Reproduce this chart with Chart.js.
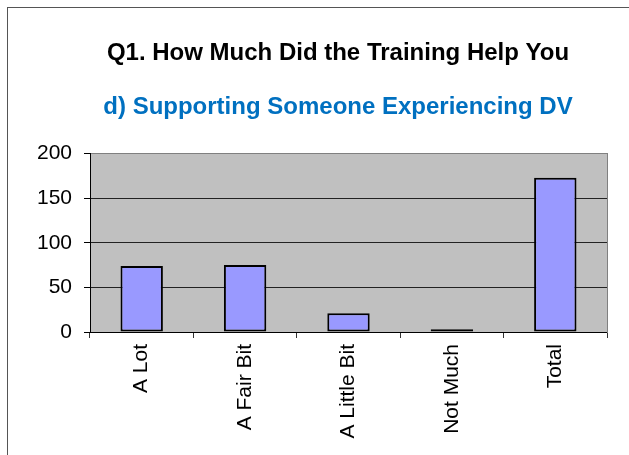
<!DOCTYPE html>
<html>
<head>
<meta charset="utf-8">
<script src="https://cdn.jsdelivr.net/npm/chart.js@4"></script>
<style>
  html, body { margin: 0; padding: 0; background: #fff; }
  #wrap { width: 629px; height: 455px; position: relative; }
</style>
</head>
<body>
<div id="wrap"><canvas id="trainingChart" width="629" height="455"></canvas></div>
<script>
// data
const categories = ['A Lot', 'A Fair Bit', 'A Little Bit', 'Not Much', 'Total'];
const responses = [74, 75, 21, 3, 173];
const yTicks = [0, 50, 100, 150, 200];

const titleText = 'Q1. How Much Did the Training Help You';
const subtitleText = 'd) Supporting Someone Experiencing DV';
const FONT = "'Liberation Sans', Arial, sans-serif";

// grey plot background + outer frame like the Excel chart
const frameAndBackground = {
    id: 'frameAndBackground',
    beforeDraw(chart) {
        const { ctx, chartArea: a } = chart;
        ctx.save();
        ctx.fillStyle = '#fff';
        ctx.fillRect(0, 0, chart.width, chart.height);
        ctx.strokeStyle = '#555';
        ctx.lineWidth = 1;
        ctx.strokeRect(7.5, 7.5, chart.width + 20, chart.height + 20);
        ctx.fillStyle = '#c0c0c0';
        ctx.fillRect(a.left, a.top, a.right - a.left, a.bottom - a.top);
        ctx.restore();
    }
};

const ctx = document.getElementById('trainingChart').getContext('2d');
new Chart(ctx, {
    type: 'bar',
    data: {
        labels: categories,
        datasets: [{
            data: responses,
            backgroundColor: '#9999ff',
            borderColor: '#000',
            borderWidth: 2,
            borderSkipped: false,
            barPercentage: 0.41,
            categoryPercentage: 1
        }]
    },
    options: {
        responsive: false,
        animation: false,
        devicePixelRatio: 1,
        // negative right padding so the centred titles sit where Excel put them
        layout: { padding: { left: 30, right: -17, top: 0, bottom: 0 } },
        plugins: {
            legend: { display: false },
            tooltip: { enabled: false },
            title: {
                display: true,
                text: titleText,
                color: '#000',
                font: { family: FONT, size: 24, weight: 'bold' },
                padding: { top: 39, bottom: 25 }
            },
            subtitle: {
                display: true,
                text: subtitleText,
                color: '#0070c0',
                font: { family: FONT, size: 24, weight: 'bold' },
                padding: { top: 0, bottom: 32 }
            }
        },
        scales: {
            x: {
                grid: {
                    offset: true,
                    drawOnChartArea: false,
                    drawTicks: true,
                    tickLength: 6,
                    tickColor: '#333'
                },
                border: { color: '#000', width: 1 },
                ticks: {
                    color: '#000',
                    font: { family: FONT, size: 21 },
                    minRotation: 90,
                    maxRotation: 90,
                    padding: 6
                },
                afterFit(scale) { scale.height = 123; }
            },
            y: {
                min: 0,
                max: 200,
                afterBuildTicks(scale) { scale.ticks = yTicks.map(v => ({ value: v })); },
                grid: {
                    color: c => (c.tick && c.tick.value === 200 ? '#808080' : '#222'),
                    tickColor: '#000',
                    tickLength: 6
                },
                border: { color: '#000', width: 1 },
                ticks: {
                    color: '#000',
                    font: { family: FONT, size: 21 },
                    padding: 12
                },
                afterFit(scale) { scale.width = 60; }
            },
            y2: {
                position: 'right',
                display: true,
                grid: { display: false, drawTicks: false },
                border: { display: true, color: '#808080' },
                ticks: { display: false },
                afterFit(scale) { scale.width = 39; }
            }
        }
    },
    plugins: [frameAndBackground]
});
</script>
</body>
</html>
